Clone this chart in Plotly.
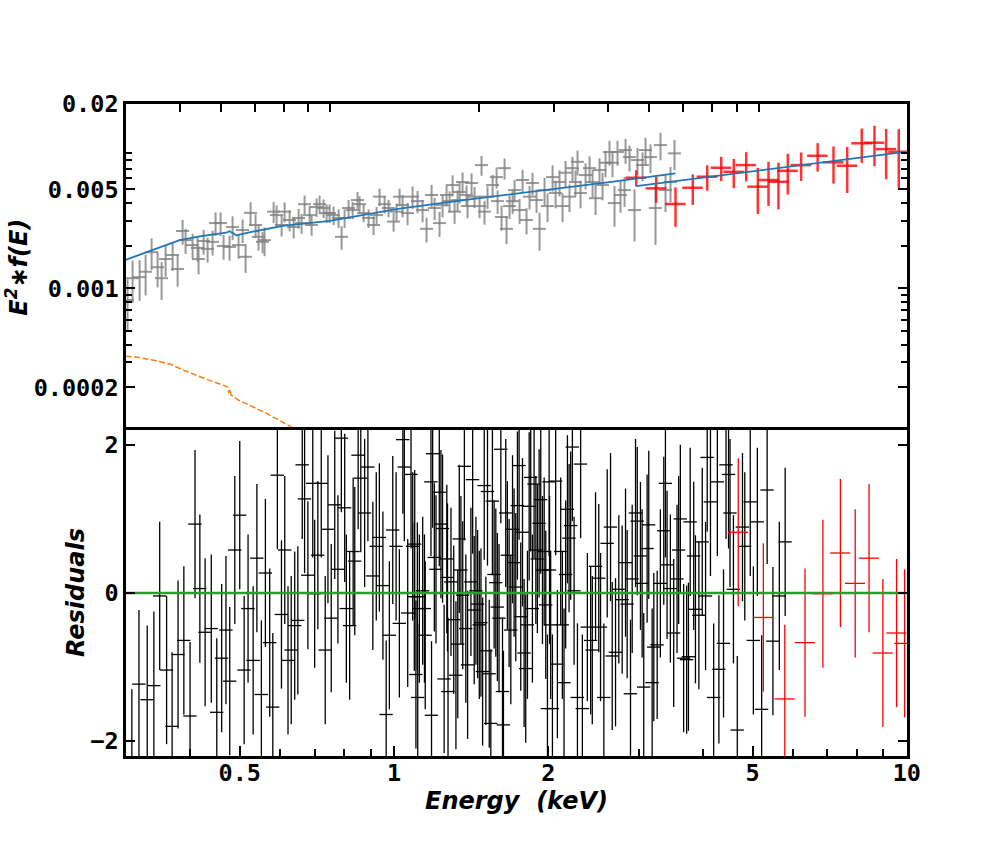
import numpy as np
import plotly.graph_objects as go
from plotly.subplots import make_subplots

# ---------------- data (top panel: E^2 f(E)) ----------------
gray_energy = [
    0.3025, 0.3108, 0.3228, 0.3334, 0.3443, 0.3556, 0.3633, 0.3712, 0.3855, 0.3960,
    0.4067, 0.4133, 0.4292, 0.4408, 0.4432, 0.4554, 0.4653, 0.4779, 0.4856, 0.4989,
    0.5070, 0.5236, 0.5321, 0.5495, 0.5617, 0.5708, 0.5862, 0.6022, 0.6120, 0.6253,
    0.632, 0.6636, 0.6743, 0.6927, 0.7039, 0.7232, 0.7390, 0.7590, 0.7712, 0.7838,
    0.8052, 0.8139, 0.8360, 0.8496, 0.8681, 0.8821, 0.8966, 0.9161, 0.9410, 0.9564,
    0.9719, 0.9930, 1.0147, 1.0422, 1.0535, 1.0765, 1.1057, 1.1359, 1.1543, 1.1731,
    1.2050, 1.2312, 1.2649, 1.2853, 1.3062,
    1.3275, 1.3635, 1.4008, 1.4388, 1.4782, 1.5102, 1.5516, 1.5768, 1.6196, 1.6460,
    1.6816, 1.7093, 1.7372, 1.7558, 1.7843, 1.8034, 1.8328, 1.8725, 1.8826, 1.9236,
    1.9548, 2.0080, 2.0297, 2.0626, 2.0962, 2.1540, 2.2007, 2.2126, 2.2604, 2.2970,
    2.3219, 2.3600, 2.3985, 2.4242, 2.4901, 2.5307, 2.5855, 2.6273, 2.6701, 2.7279,
    2.7727, 2.8481, 2.8944, 2.9738, 3.0221, 3.0874, 3.1377, 3.1887, 3.2577, 3.3108,
    3.3646, 3.4007, 3.4566, 3.5509, 3.6282, 3.6873, 3.7472, 3.8282, 3.8906, 3.9538,
    4.0394, 4.1052, 4.1493, 4.2167, 4.2861, 4.3791, 4.4029, 4.4978, 4.6201, 4.6953,
    4.8241, 4.9024, 5.0354, 5.1727, 5.3142, 5.4591, 5.6068, 5.7284]
gray_flux = [
    0.000828, 0.00118, 0.00120, 0.00131, 0.00180, 0.00141, 0.00118, 0.00161, 0.00172, 0.00137,
    0.00254, 0.00219, 0.00202, 0.00193, 0.00161, 0.00216, 0.00190, 0.00213, 0.00289, 0.00289,
    0.00199, 0.00196, 0.00271, 0.00202, 0.00258, 0.00167, 0.00341, 0.00280, 0.00231, 0.00213,
    0.00219, 0.00348, 0.00329, 0.00280, 0.00348, 0.00304, 0.00271, 0.00314, 0.00289, 0.00393,
    0.00329, 0.00280, 0.00375, 0.00393, 0.00369, 0.00340, 0.00340, 0.00329, 0.00314, 0.00231,
    0.00314, 0.00369, 0.00357, 0.00420, 0.00393, 0.00340, 0.00314, 0.00280, 0.00329, 0.00444,
    0.00393, 0.00369, 0.00296, 0.00348, 0.00444,
    0.00387, 0.00340, 0.00444, 0.00413, 0.00357, 0.00263, 0.00456, 0.00369, 0.00289, 0.00387,
    0.00456, 0.00413, 0.00536, 0.00348, 0.00420, 0.00479, 0.00563, 0.00456, 0.00381, 0.00554,
    0.00444, 0.00381, 0.00742, 0.00348, 0.00444, 0.00536, 0.00610, 0.00413, 0.00319, 0.00706,
    0.00263, 0.00381, 0.00413, 0.00494, 0.00357, 0.00582, 0.00304, 0.00444, 0.00554, 0.00420,
    0.00263, 0.00494, 0.00381, 0.00610, 0.00471, 0.00563, 0.00381, 0.00655, 0.00444, 0.00706,
    0.00563, 0.00782, 0.00471, 0.00631, 0.00706, 0.00563, 0.00433, 0.00684, 0.00536, 0.00770,
    0.00918, 0.00770, 0.00400, 0.00918, 0.00456, 0.00494, 0.00947, 0.00845, 0.00357, 0.00805,
    0.00742, 0.00947, 0.00845, 0.00369, 0.01027, 0.00494, 0.00563, 0.00898]
gray_rel_err = [
    0.40, 0.33, 0.32, 0.32, 0.25, 0.28, 0.30, 0.25, 0.23, 0.25,
    0.20, 0.20, 0.20, 0.20, 0.22, 0.20, 0.20, 0.20, 0.19, 0.19,
    0.20, 0.20, 0.19, 0.20, 0.19, 0.23, 0.19, 0.19, 0.20, 0.17,
    0.23, 0.17, 0.17, 0.17, 0.16, 0.17, 0.17, 0.16, 0.16, 0.15,
    0.16, 0.16, 0.15, 0.15, 0.15, 0.15, 0.15, 0.15, 0.15, 0.19,
    0.15, 0.14, 0.14, 0.14, 0.14, 0.14, 0.15, 0.15, 0.14, 0.14,
    0.14, 0.14, 0.15, 0.14, 0.14,
    0.18, 0.18, 0.18, 0.18, 0.18, 0.20, 0.18, 0.18, 0.20, 0.18,
    0.17, 0.17, 0.17, 0.18, 0.17, 0.17, 0.17, 0.17, 0.18, 0.17,
    0.17, 0.18, 0.16, 0.19, 0.18, 0.18, 0.17, 0.19, 0.20, 0.17,
    0.22, 0.19, 0.19, 0.18, 0.20, 0.18, 0.21, 0.19, 0.18, 0.19,
    0.30, 0.22, 0.23, 0.21, 0.22, 0.21, 0.23, 0.21, 0.22, 0.20,
    0.21, 0.20, 0.22, 0.21, 0.21, 0.22, 0.24, 0.21, 0.22, 0.21,
    0.20, 0.21, 0.32, 0.20, 0.25, 0.24, 0.20, 0.21, 0.40, 0.22,
    0.23, 0.22, 0.23, 0.45, 0.22, 0.30, 0.28, 0.24]

red_energy = [4.663, 5.192, 5.760, 6.321, 6.830, 7.365, 7.880, 8.424, 8.967, 9.497,
              10.02, 10.535, 11.32, 12.37, 13.47, 14.50, 15.68, 16.79, 17.88, 19.13]
red_flux = [6.04e-3, 5.08e-3, 3.94e-3, 5.13e-3, 6.14e-3, 7.10e-3, 6.65e-3, 7.42e-3, 5.22e-3, 5.82e-3,
            5.66e-3, 6.76e-3, 7.42e-3, 8.63e-3, 7.76e-3, 7.34e-3, 1.057e-2, 1.067e-2, 9.62e-3, 9.21e-3]
red_err = [0.79e-3, 1.06e-3, 1.22e-3, 1.25e-3, 1.25e-3, 1.38e-3, 1.55e-3, 1.73e-3, 1.87e-3, 2.0e-3,
           2.05e-3, 2.16e-3, 1.69e-3, 1.96e-3, 2.27e-3, 2.63e-3, 2.88e-3, 3.39e-3, 3.72e-3, 4.1e-3]

model_gray_energy = [0.2994, 0.3457, 0.4002, 0.4457, 0.514, 0.5236, 0.543, 0.5926, 0.622,
                     0.697, 0.897, 1.306, 1.903, 2.773, 4.039, 5.760]
model_gray_flux = [0.00159, 0.00186, 0.00219, 0.00233, 0.00247, 0.00253, 0.00237, 0.00251, 0.00258,
                   0.00276, 0.00299, 0.00366, 0.00425, 0.00488, 0.00563, 0.00649]
model_red_energy = [4.663, 6.0, 8.0, 10.0, 14.0, 19.8]
model_red_flux = [0.00527, 0.00581, 0.00649, 0.00707, 0.00806, 0.00921]

orange_energy = [0.2994, 0.32, 0.3462, 0.38, 0.4045, 0.4628, 0.5177, 0.5215, 0.5245, 0.528,
                 0.532, 0.5465, 0.6389, 0.7508, 0.85]
orange_flux = [3.32e-4, 3.26e-4, 3.12e-4, 2.92e-4, 2.68e-4, 2.28e-4, 2.02e-4, 1.83e-4, 1.94e-4, 1.76e-4,
               1.74e-4, 1.64e-4, 1.31e-4, 1.0e-4, 7.6e-5]

# ---------------- data (bottom panel: residuals) ----------------
res_energy = [
    0.308, 0.318, 0.330, 0.340, 0.349, 0.360, 0.369, 0.379, 0.389, 0.400,
    0.409, 0.418, 0.428, 0.440, 0.451, 0.461, 0.470, 0.478, 0.489, 0.500,
    0.510, 0.519, 0.531, 0.540, 0.551, 0.561, 0.572, 0.580, 0.592, 0.603,
    0.612, 0.621, 0.630, 0.640, 0.649, 0.662, 0.669, 0.679, 0.694, 0.700,
    0.710, 0.721, 0.734, 0.743, 0.754, 0.766, 0.777, 0.789, 0.801, 0.807,
    0.819, 0.832, 0.838, 0.851, 0.861, 0.876, 0.889, 0.909, 0.923, 0.936,
    0.951, 0.965, 0.979, 0.994, 1.009, 1.024, 1.040, 1.047, 1.063, 1.079,
    1.087, 1.095, 1.103, 1.112, 1.120,
    1.097, 1.110, 1.137, 1.146, 1.150, 1.180, 1.189, 1.198, 1.207, 1.183,
    1.225, 1.234, 1.243, 1.252, 1.267, 1.271, 1.274, 1.291, 1.307, 1.320,
    1.331, 1.340, 1.350, 1.361, 1.371, 1.380, 1.391, 1.412, 1.423, 1.433,
    1.444, 1.455, 1.466, 1.477, 1.488, 1.499, 1.510, 1.521, 1.533, 1.544,
    1.555, 1.567, 1.579, 1.590, 1.602, 1.615, 1.627, 1.634, 1.651, 1.663,
    1.676, 1.689, 1.702, 1.714, 1.727, 1.740, 1.753, 1.766, 1.780, 1.793,
    1.806, 1.820, 1.834, 1.847, 1.861, 1.875, 1.890, 1.903, 1.918, 1.932,
    1.947, 1.962, 1.976, 1.991, 2.006,
    2.010, 2.020, 2.036, 2.066, 2.082, 2.113, 2.129, 2.145, 2.161, 2.178,
    2.194, 2.210, 2.227, 2.244, 2.278, 2.311, 2.329, 2.382, 2.417, 2.435,
    2.471, 2.507, 2.527, 2.565, 2.604, 2.643, 2.663, 2.703, 2.743, 2.785,
    2.827, 2.848, 2.891, 2.913, 2.957, 2.980, 3.023, 3.046, 3.068, 3.115,
    3.138, 3.186, 3.210, 3.259, 3.306, 3.357, 3.382, 3.407, 3.458, 3.510,
    3.563, 3.589, 3.616, 3.670,
    3.72, 3.75, 3.78, 3.84, 3.87, 3.93, 3.99, 4.05, 4.08, 4.14,
    4.20, 4.27, 4.30, 4.39, 4.44, 4.49, 4.52, 4.59, 4.67, 4.78,
    4.83, 4.95, 5.02, 5.11, 5.21, 5.34, 5.48, 5.64, 5.79]
res_value = [
    -2.3, -1.23, -1.44, -1.25, -0.04, -1.04, -1.80, -0.83, -0.64, -1.66,
    0.93, 0.06, -0.53, -0.48, -1.61, -0.88, -0.50, -1.19, 0.58, 1.05,
    -1.04, -0.21, -0.91, 0.47, -1.37, 0.27, -0.67, -1.54, 1.59, -0.29,
    0.58, -0.91, -0.77, -0.44, -0.37, 1.73, 1.27, 0.24, 1.48, -0.01,
    0.51, 1.48, -0.77, 0.86, -0.34, 1.19, 0.32, 2.09, 1.15, -0.21,
    -0.44, 0.56, 0.43, 1.86, 1.55, 1.08, 1.70, 0.23, 0.63, 0.75,
    0.10, -1.64, -0.57, 0.85, 0.63, -0.41, 2.07, 1.70, -0.27, 1.60,
    0.63, -0.05, -1.10, -1.41, -0.21,
    0.66, -0.05, 0.03, -0.21, -0.57, 1.50, 1.88, 0.48, 0.32, -1.65,
    1.36, 0.93, 0.87, -1.16, 0.46, 0.21, -1.33, 0.15, -0.36, -1.11,
    -0.69, 0.73, 0.31, -0.03, 1.71, -0.48, -0.97, 0.15, 1.53, -0.23,
    0.03, -0.15, -0.43, -0.40, -1.06, 1.45, -0.78, 1.37, -1.09, -1.76,
    1.24, 0.25, 0.14, -0.19, -0.34, 1.94, -1.33, -1.78, 1.08, 0.51,
    0.00, -0.50, 0.86, 0.41, 0.08, 1.18, 1.72, -0.32, 0.82, -0.81,
    -1.02, -0.43, 1.17, 1.56, -0.21, 1.47, 0.58, 0.46, 0.94, 1.26,
    0.31, 0.56, -0.16, -1.56, 1.50,
    0.31, -0.43, -1.56, 1.51, -0.96, 0.56, -0.43, -1.21, 0.25, 1.13,
    0.74, 0.91, 1.97, 0.03, -1.41, 1.74, -1.56, -0.46, -0.64, -0.77,
    0.36, 0.20, -0.46, -1.41, 0.67, 0.89, -0.85, -0.80, 0.05, -0.09,
    0.41, -0.15, -1.36, 0.19, 1.08, 0.97, 0.50, 0.13, -1.27, 0.60,
    0.92, -1.21, -0.73, -0.70, 0.13, 0.84, 1.48, 0.38, 0.06, -0.54,
    0.19, 0.58, 1.00, -0.88,
    -0.90, -0.86, 0.96, 0.50, -0.22, -0.30, 0.69, -0.04, 1.83, 1.23,
    -1.41, 1.50, -1.03, -0.68, 1.73, 1.60, 1.08, 0.05, -1.85, 0.89,
    0.63, 1.23, -0.64, 0.96, -1.57, 1.39, -0.65, -0.04, 0.69]
res_red_energy = [4.69, 5.25, 5.78, 6.33, 6.86, 7.42, 7.93, 8.44, 8.98, 9.55, 9.90]
res_red_value = [0.82, -0.33, -1.43, -0.67, -0.01, 0.54, 0.13, 0.47, -0.81, -0.54, -0.68]

# tick definitions
top_x_ticks = [0.4, 0.5, 0.6, 0.7, 0.8, 0.9, 2, 3, 4, 5, 6, 7, 8, 9]
top_y_major = [0.0002, 0.001, 0.005, 0.02]
top_y_labels = ["0.0002", "0.001", "0.005", "0.02"]
top_y_minor = [0.0002, 0.0003, 0.0004, 0.0005, 0.0006, 0.0007, 0.0008, 0.0009,
               0.002, 0.003, 0.004, 0.005, 0.006, 0.007, 0.008, 0.009]
bot_x_major = [0.5, 1, 2, 5, 10]
bot_x_labels = ["0.5", "1", "2", "5", "10"]
bot_x_minor = [0.4, 0.6, 0.7, 0.8, 0.9, 3, 4, 6, 7, 8, 9]
bot_y_major = [-2, 0, 2]

assert len(gray_energy) == len(gray_flux) == len(gray_rel_err)
assert len(res_energy) == len(res_value)

gray_err = np.array(gray_flux) * np.array(gray_rel_err)

fig = make_subplots(rows=2, cols=1, vertical_spacing=0.0)

GRAY = "rgba(128,128,128,0.8)"
RED = "rgba(255,0,0,0.8)"
nomark = dict(size=1, color="rgba(0,0,0,0)")

fig.add_trace(go.Scatter(x=gray_energy, y=gray_flux, mode="markers", marker=nomark,
                         error_y=dict(type="data", array=gray_err, color=GRAY, thickness=2, width=0),
                         error_x=dict(type="percent", value=3.5, color=GRAY, thickness=2, width=0),
                         showlegend=False), row=1, col=1)
fig.add_trace(go.Scatter(x=red_energy, y=red_flux, mode="markers", marker=nomark,
                         error_y=dict(type="data", array=red_err, color=RED, thickness=2.5, width=0),
                         error_x=dict(type="percent", value=5.5, color=RED, thickness=2.5, width=0),
                         showlegend=False), row=1, col=1)
fig.add_trace(go.Scatter(x=model_gray_energy, y=model_gray_flux, mode="lines",
                         line=dict(color="#1f77b4", width=1.8), showlegend=False), row=1, col=1)
fig.add_trace(go.Scatter(x=model_red_energy, y=model_red_flux, mode="lines",
                         line=dict(color="#1f77b4", width=1.8), showlegend=False), row=1, col=1)
fig.add_trace(go.Scatter(x=orange_energy, y=orange_flux, mode="lines",
                         line=dict(color="#ff7f0e", width=1.5, dash="6px,2.5px"), showlegend=False),
              row=1, col=1)

fig.add_trace(go.Scatter(x=res_energy, y=res_value, mode="markers", marker=nomark,
                         error_y=dict(type="constant", value=1, color="black", thickness=1.3, width=0),
                         error_x=dict(type="percent", value=3, color="black", thickness=1.3, width=0),
                         showlegend=False), row=2, col=1)
fig.add_trace(go.Scatter(x=res_red_energy, y=res_red_value, mode="markers", marker=nomark,
                         error_y=dict(type="constant", value=1, color="red", thickness=1.3, width=0),
                         error_x=dict(type="percent", value=4.5, color="red", thickness=1.3, width=0),
                         showlegend=False), row=2, col=1)
fig.add_trace(go.Scatter(x=[0.3, 10], y=[0, 0], mode="lines",
                         line=dict(color="#2f9a2f", width=2.5), showlegend=False), row=2, col=1)

tickfont = dict(family="DejaVu Sans Mono", size=23.5, color="black", weight="bold")
axcommon = dict(showgrid=False, zeroline=False, showline=True, linecolor="black", linewidth=2.5,
                ticks="inside", tickcolor="black", tickwidth=2)

fig.update_xaxes(type="log", range=[np.log10(0.3), np.log10(20)], side="top", mirror=False,
                 tickmode="array", tickvals=top_x_ticks, ticklen=8, showticklabels=False,
                 **axcommon, row=1, col=1)
fig.update_xaxes(type="log", range=[np.log10(0.3), 1.0003], mirror=True,
                 tickmode="array", tickvals=bot_x_major, ticktext=bot_x_labels, ticklen=10,
                 tickfont=tickfont, ticklabelstandoff=-6,
                 minor=dict(tickmode="array", tickvals=bot_x_minor, ticks="inside", ticklen=7,
                            tickwidth=2, tickcolor="black", showgrid=False),
                 **axcommon, row=2, col=1)
fig.update_yaxes(type="log", range=[-4, np.log10(0.02) + 0.0005], mirror="ticks",
                 tickmode="array", tickvals=top_y_major, ticktext=top_y_labels, ticklen=9,
                 tickfont=tickfont,
                 minor=dict(tickmode="array", tickvals=top_y_minor, ticks="inside", ticklen=6,
                            tickwidth=2, tickcolor="black", showgrid=False),
                 **axcommon, row=1, col=1)
fig.update_yaxes(range=[-2.2, 2.2], mirror="ticks", tickmode="array", tickvals=bot_y_major,
                 ticklen=9, tickfont=tickfont, **axcommon, row=2, col=1)

titlefont = dict(family="DejaVu Sans", size=24, color="black", weight="bold", style="italic")
fig.add_annotation(text="Energy\u00a0\u00a0(keV)", xref="paper", yref="paper", x=0.5, y=-0.069,
                   xanchor="center", yanchor="middle", showarrow=False, font=titlefont)
fig.add_annotation(text="Residuals", xref="paper", yref="paper", x=-0.064, y=0.25, textangle=-90,
                   xanchor="center", yanchor="middle", showarrow=False, font=titlefont)
fig.add_annotation(text="E<sup>2</sup>\u2217f(E)", xref="paper", yref="paper", x=-0.140, y=0.75,
                   textangle=-90, xanchor="center", yanchor="middle", showarrow=False, font=titlefont)

fig.update_layout(width=1008, height=864, margin=dict(l=126, r=101, t=104, b=108),
                  plot_bgcolor="white", paper_bgcolor="white", showlegend=False)

fig.write_html("out.html", config={"displayModeBar": False},
               post_script="document.body.style.margin='0px';")
